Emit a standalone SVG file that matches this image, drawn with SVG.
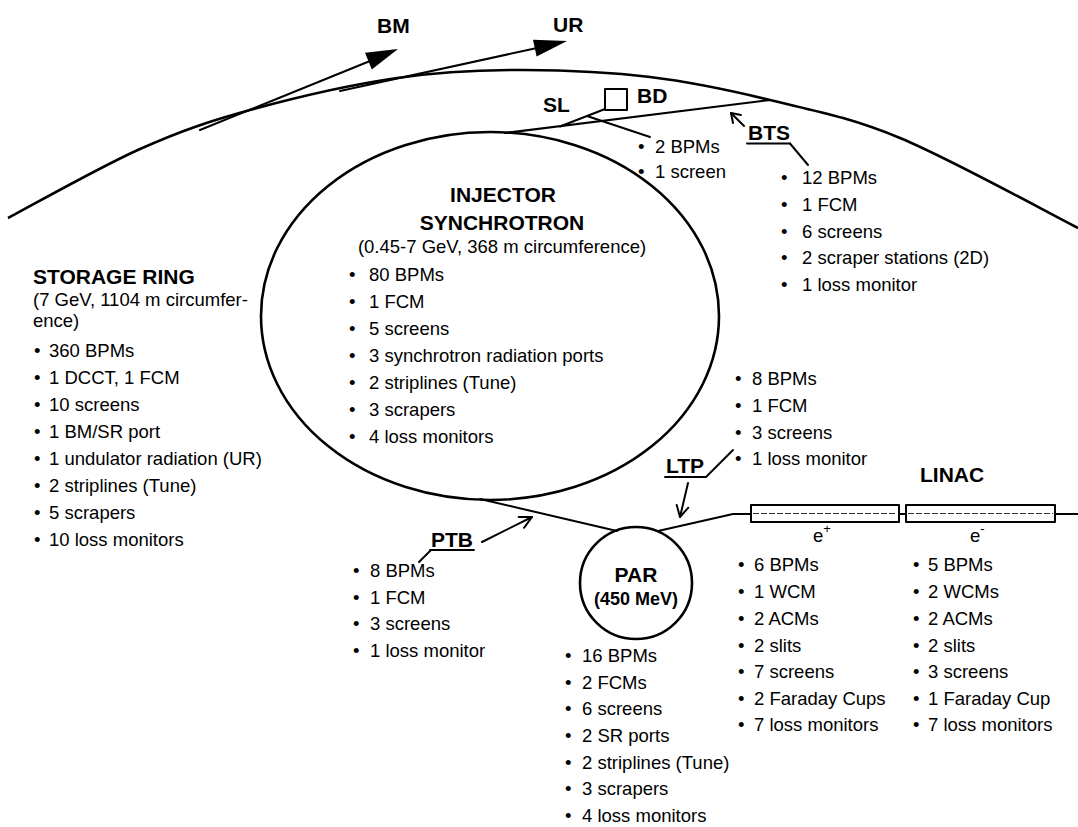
<svg xmlns="http://www.w3.org/2000/svg" width="1078" height="827" viewBox="0 0 1078 827">
<style>
text{font-family:"Liberation Sans",Arial,Helvetica,sans-serif;font-size:18.5px;fill:#000}
.b{font-weight:bold;font-size:21px}
.c{text-anchor:middle}
.ln{stroke:#000;stroke-width:2;fill:none;stroke-linecap:round;stroke-linejoin:round}
.th{stroke:#000;stroke-width:2.6;fill:none}
.fill{fill:#000;stroke:none}
</style>
<rect width="1078" height="827" fill="#fff"/>

<g id="storage-ring">
<path class="th" d="M8,218 C30,206.5 99.7,167 140,149 C180.3,131 207.2,121.8 250,110 C292.8,98.2 351.3,84.7 397,78 C442.7,71.3 481.8,69.8 524,70 C566.2,70.2 609,72 650,77 C691,82 728.3,89.8 770,100 C811.7,110.2 848.7,116.7 900,138 C951.3,159.3 1048.3,213 1078,228"/>
<text class="b" x="33" y="284">STORAGE RING</text>
<text x="33" y="306">(7 GeV, 1104 m circumfer-</text>
<text x="33" y="327">ence)</text>
<text><tspan x="34" y="357">•</tspan><tspan x="49">360 BPMs</tspan></text>
<text><tspan x="34" y="384">•</tspan><tspan x="49">1 DCCT, 1 FCM</tspan></text>
<text><tspan x="34" y="411">•</tspan><tspan x="49">10 screens</tspan></text>
<text><tspan x="34" y="438">•</tspan><tspan x="49">1 BM/SR port</tspan></text>
<text><tspan x="34" y="465">•</tspan><tspan x="49">1 undulator radiation (UR)</tspan></text>
<text><tspan x="34" y="492">•</tspan><tspan x="49">2 striplines (Tune)</tspan></text>
<text><tspan x="34" y="519">•</tspan><tspan x="49">5 scrapers</tspan></text>
<text><tspan x="34" y="546">•</tspan><tspan x="49">10 loss monitors</tspan></text>
</g>

<g id="bm-ur">
<text class="b" x="377" y="33">BM</text>
<text class="b" x="553" y="32">UR</text>
</g>

<g id="injector-synchrotron">
<ellipse class="th" cx="490" cy="316" rx="229" ry="184"/>
<text class="b c" x="503" y="202">INJECTOR</text>
<text class="b c" x="502" y="230">SYNCHROTRON</text>
<text class="c" x="502" y="253">(0.45-7 GeV, 368 m circumference)</text>
<text><tspan x="349" y="281">•</tspan><tspan x="369">80 BPMs</tspan></text>
<text><tspan x="349" y="308">•</tspan><tspan x="369">1 FCM</tspan></text>
<text><tspan x="349" y="335">•</tspan><tspan x="369">5 screens</tspan></text>
<text><tspan x="349" y="362">•</tspan><tspan x="369">3 synchrotron radiation ports</tspan></text>
<text><tspan x="349" y="389">•</tspan><tspan x="369">2 striplines (Tune)</tspan></text>
<text><tspan x="349" y="416">•</tspan><tspan x="369">3 scrapers</tspan></text>
<text><tspan x="349" y="443">•</tspan><tspan x="369">4 loss monitors</tspan></text>
</g>

<g id="sl-bd">
<text class="b" x="543" y="112">SL</text>
<rect class="ln" x="605" y="89" width="22" height="21"/>
<text class="b" x="637" y="103">BD</text>
<text><tspan x="638" y="153">•</tspan><tspan x="655">2 BPMs</tspan></text>
<text><tspan x="638" y="178">•</tspan><tspan x="655">1 screen</tspan></text>
</g>

<g id="bts">
<text class="b" x="748" y="140">BTS</text>
<text><tspan x="781" y="184">•</tspan><tspan x="802">12 BPMs</tspan></text>
<text><tspan x="781" y="211">•</tspan><tspan x="802">1 FCM</tspan></text>
<text><tspan x="781" y="238">•</tspan><tspan x="802">6 screens</tspan></text>
<text><tspan x="781" y="264">•</tspan><tspan x="802">2 scraper stations (2D)</tspan></text>
<text><tspan x="781" y="291">•</tspan><tspan x="802">1 loss monitor</tspan></text>
</g>

<g id="ltp">
<text class="b" x="666" y="473">LTP</text>
<text><tspan x="735" y="385">•</tspan><tspan x="752">8 BPMs</tspan></text>
<text><tspan x="735" y="412">•</tspan><tspan x="752">1 FCM</tspan></text>
<text><tspan x="735" y="439">•</tspan><tspan x="752">3 screens</tspan></text>
<text><tspan x="735" y="465">•</tspan><tspan x="752">1 loss monitor</tspan></text>
</g>

<g id="ptb">
<text class="b" x="431" y="547">PTB</text>
<text><tspan x="353" y="577">•</tspan><tspan x="370">8 BPMs</tspan></text>
<text><tspan x="353" y="604">•</tspan><tspan x="370">1 FCM</tspan></text>
<text><tspan x="353" y="630">•</tspan><tspan x="370">3 screens</tspan></text>
<text><tspan x="353" y="657">•</tspan><tspan x="370">1 loss monitor</tspan></text>
</g>

<g id="par">
<circle class="th" cx="636" cy="583" r="56"/>
<text class="b c" x="636" y="582">PAR</text>
<text class="b c" x="636" y="605" style="font-size:18px">(450 MeV)</text>
<text><tspan x="565" y="662">•</tspan><tspan x="582">16 BPMs</tspan></text>
<text><tspan x="565" y="689">•</tspan><tspan x="582">2 FCMs</tspan></text>
<text><tspan x="565" y="715">•</tspan><tspan x="582">6 screens</tspan></text>
<text><tspan x="565" y="742">•</tspan><tspan x="582">2 SR ports</tspan></text>
<text><tspan x="565" y="769">•</tspan><tspan x="582">2 striplines (Tune)</tspan></text>
<text><tspan x="565" y="795">•</tspan><tspan x="582">3 scrapers</tspan></text>
<text><tspan x="565" y="822">•</tspan><tspan x="582">4 loss monitors</tspan></text>
</g>

<g id="linac">
<text class="b" x="920" y="482">LINAC</text>
<rect class="ln" x="751" y="505" width="148" height="17"/>
<rect class="ln" x="906" y="505" width="149" height="17"/>
<line x1="753" y1="513.5" x2="897" y2="513.5" stroke="#000" stroke-width="0.8" stroke-dasharray="6 2"/>
<line x1="908" y1="513.5" x2="1053" y2="513.5" stroke="#000" stroke-width="0.8" stroke-dasharray="6 2"/>
<text x="813" y="542">e<tspan dy="-9" style="font-size:13px">+</tspan></text>
<text x="970" y="542">e<tspan dy="-9" style="font-size:13px">-</tspan></text>
<text><tspan x="738" y="571">•</tspan><tspan x="754">6 BPMs</tspan></text>
<text><tspan x="738" y="598">•</tspan><tspan x="754">1 WCM</tspan></text>
<text><tspan x="738" y="625">•</tspan><tspan x="754">2 ACMs</tspan></text>
<text><tspan x="738" y="652">•</tspan><tspan x="754">2 slits</tspan></text>
<text><tspan x="738" y="678">•</tspan><tspan x="754">7 screens</tspan></text>
<text><tspan x="738" y="705">•</tspan><tspan x="754">2 Faraday Cups</tspan></text>
<text><tspan x="738" y="731">•</tspan><tspan x="754">7 loss monitors</tspan></text>
<text><tspan x="913" y="571">•</tspan><tspan x="928">5 BPMs</tspan></text>
<text><tspan x="913" y="598">•</tspan><tspan x="928">2 WCMs</tspan></text>
<text><tspan x="913" y="625">•</tspan><tspan x="928">2 ACMs</tspan></text>
<text><tspan x="913" y="652">•</tspan><tspan x="928">2 slits</tspan></text>
<text><tspan x="913" y="678">•</tspan><tspan x="928">3 screens</tspan></text>
<text><tspan x="913" y="705">•</tspan><tspan x="928">1 Faraday Cup</tspan></text>
<text><tspan x="913" y="731">•</tspan><tspan x="928">7 loss monitors</tspan></text>
</g>

<g id="connectors">
<line class="ln" x1="200" y1="130" x2="370" y2="61"/>
<polygon class="fill" points="398,49 371.8,69.4 365,52.8"/>
<line class="ln" x1="340" y1="91" x2="537" y2="48"/>
<polygon class="fill" points="567,41 536.6,56.4 533,39.8"/>
<line class="ln" x1="505" y1="133" x2="770" y2="100"/>
<line class="ln" x1="560" y1="126.5" x2="605" y2="109"/>
<line class="ln" x1="587" y1="116" x2="650" y2="137"/>
<polyline class="ln" points="744,126 731,113"/>
<polyline class="ln" points="741,115 731,113 733,123"/>
<line class="ln" x1="747" y1="143.5" x2="790" y2="143.5"/>
<line class="ln" x1="790" y1="143.5" x2="808" y2="165"/>
<line class="ln" x1="480" y1="499" x2="617" y2="531"/>
<line class="ln" x1="482" y1="542" x2="532" y2="517"/>
<polyline class="ln" points="524,527.8 532,517 518.6,517"/>
<line class="ln" x1="430" y1="550" x2="474" y2="550"/>
<line class="ln" x1="431" y1="550" x2="419" y2="562"/>
<polyline class="ln" points="658,531 733,514 751,514"/>
<line class="ln" x1="899" y1="514" x2="906" y2="514"/>
<line class="ln" x1="1055" y1="514" x2="1078" y2="514"/>
<line class="ln" x1="688" y1="483" x2="680" y2="517"/>
<polyline class="ln" points="688.3,507.7 680,517 676.7,504.9"/>
<line class="ln" x1="665" y1="477" x2="706" y2="477"/>
<line class="ln" x1="706" y1="477" x2="733" y2="450"/>
</g>
</svg>
